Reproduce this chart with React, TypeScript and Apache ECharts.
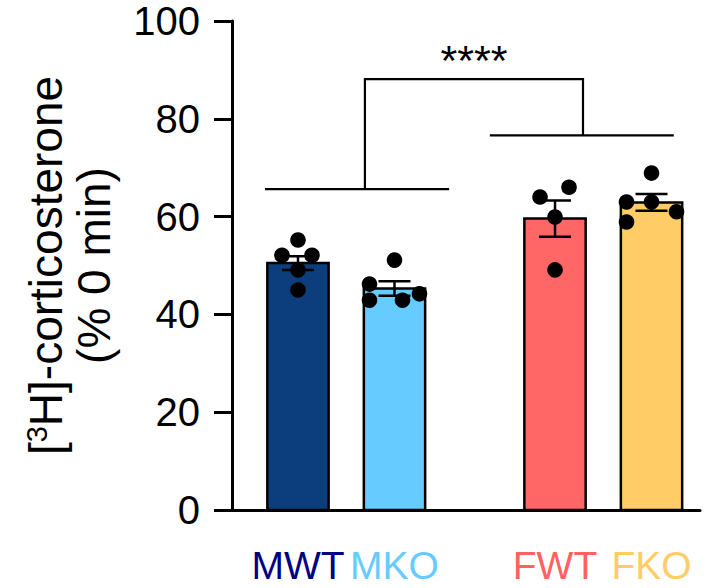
import React, { useEffect, useRef } from "react";
import * as echarts from "echarts";

// ---- data ----
const categories = ["MWT", "MKO", "FWT", "FKO"];
const means = [50.5, 45.3, 59.6, 62.9];
const sems = [1.4, 1.5, 3.7, 1.7];
const pointsMWT = [55.2, 52.1, 52.1, 49.1, 45.0];
const pointsMKO = [51.1, 46.2, 42.9, 42.9, 44.2];
const pointsFWT = [64.0, 66.0, 59.9, 49.1];
const pointsFKO = [68.9, 63.0, 63.0, 61.0, 58.9];
const yTicks = [0, 20, 40, 60, 80, 100];
const significance = "****";

// ---- layout (positions on the hidden x scale, sizes, styles) ----
const barCenters = [14.1, 34.72, 69.02, 89.64];
const barWidthUnits = 13.1;
const jitterPx = [
  [0, -16, 14, 0, 0],
  [0, -25, -25, 8, 25],
  [-15, 14, 0, 0],
  [0, -25, 0, 25, -25],
];
const barColors = ["#0C3D7C", "#66CCFF", "#FF6666", "#FFCC66"];
const labelColors = ["#000080", "#66CCFF", "#FF6262", "#FFCC66"];
const bracketLeft = { x0: 7.05, x1: 46.4, y: 65.6, stem: 28.4 };
const bracketRight = { x0: 55.1, x1: 94.4, y: 76.6, stem: 75.0 };
const bracketTop = 88.1;
const FONT = "'Liberation Sans', Arial, Helvetica, sans-serif";

const allPoints = [pointsMWT, pointsMKO, pointsFWT, pointsFKO];

export default function App() {
  const ref = useRef<HTMLDivElement>(null);
  useEffect(() => {
    if (!ref.current) return;
    const chart = echarts.init(ref.current, undefined, { renderer: "svg" });

    const barData = categories.map((_, i) => [barCenters[i], means[i], sems[i], i]);
    const dotData: number[][] = [];
    allPoints.forEach((pts, i) =>
      pts.forEach((v, j) => dotData.push([barCenters[i], v, jitterPx[i][j] || 0]))
    );

    const rich: any = {};
    categories.forEach((_, i) => {
      rich["c" + i] = { color: labelColors[i], fontSize: 39, fontFamily: FONT };
    });

    const option: any = {
      animation: false,
      grid: { left: 232, right: 20, top: 21, bottom: 78, containLabel: false },
      xAxis: {
        type: "value",
        min: 0,
        max: 100,
        splitLine: { show: false },
        axisTick: { show: false },
        axisLine: { show: true, lineStyle: { color: "#000", width: 3 } },
        axisLabel: {
          customValues: barCenters,
          margin: 36,
          formatter: (value: number) => {
            let idx = 0;
            let best = Infinity;
            barCenters.forEach((c, i) => {
              const d = Math.abs(c - value);
              if (d < best) { best = d; idx = i; }
            });
            return "{c" + idx + "|" + categories[idx] + "}";
          },
          rich,
        },
      },
      yAxis: {
        type: "value",
        min: yTicks[0],
        max: yTicks[yTicks.length - 1],
        interval: 20,
        splitLine: { show: false },
        axisLine: { show: true, lineStyle: { color: "#000", width: 3 } },
        axisTick: { show: true, length: 18, lineStyle: { color: "#000", width: 3 } },
        axisLabel: { fontSize: 40, color: "#000", margin: 32, fontFamily: FONT },
        name: "[{sup|3}H]-corticosterone\n(% 0 min)",
        nameLocation: "middle",
        nameRotate: 90,
        nameGap: 114,
        nameTextStyle: {
          fontSize: 46,
          color: "#000",
          fontFamily: FONT,
          lineHeight: 48,
          rich: {
            sup: { fontSize: 29, fontFamily: FONT, color: "#000", verticalAlign: "top", lineHeight: 48 },
          },
        },
      },
      series: [
        {
          type: "custom",
          name: "bars",
          data: barData,
          encode: { x: 0, y: 1 },
          renderItem: (params: any, api: any) => {
            const x = api.value(0);
            const m = api.value(1);
            const s = api.value(2);
            const i = api.value(3);
            const top = api.coord([x, m]);
            const base = api.coord([x, 0]);
            const w = api.size([barWidthUnits, 0])[0];
            const hi = api.coord([x, m + s]);
            const lo = api.coord([x, m - s]);
            const cap = 16;
            const es = { stroke: "#000", lineWidth: 2.5 };
            return {
              type: "group",
              children: [
                {
                  type: "rect",
                  shape: { x: top[0] - w / 2, y: top[1], width: w, height: base[1] - top[1] },
                  style: { fill: barColors[i], stroke: "#000", lineWidth: 2.5 },
                },
                { type: "line", shape: { x1: hi[0], y1: hi[1], x2: lo[0], y2: lo[1] }, style: es },
                { type: "line", shape: { x1: hi[0] - cap, y1: hi[1], x2: hi[0] + cap, y2: hi[1] }, style: es },
                { type: "line", shape: { x1: lo[0] - cap, y1: lo[1], x2: lo[0] + cap, y2: lo[1] }, style: es },
              ],
            };
          },
          z: 2,
        },
        {
          type: "custom",
          name: "points",
          data: dotData,
          encode: { x: 0, y: 1 },
          renderItem: (params: any, api: any) => {
            const p = api.coord([api.value(0), api.value(1)]);
            return {
              type: "circle",
              shape: { cx: p[0] + api.value(2), cy: p[1], r: 7.8 },
              style: { fill: "#000" },
            };
          },
          z: 3,
        },
        {
          type: "custom",
          name: "significance",
          data: [[bracketLeft.stem, bracketTop]],
          encode: { x: 0, y: 1 },
          renderItem: (params: any, api: any) => {
            const ls = { stroke: "#000", lineWidth: 2.2, fill: null };
            const l0 = api.coord([bracketLeft.x0, bracketLeft.y]);
            const l1 = api.coord([bracketLeft.x1, bracketLeft.y]);
            const r0 = api.coord([bracketRight.x0, bracketRight.y]);
            const r1 = api.coord([bracketRight.x1, bracketRight.y]);
            const sL = api.coord([bracketLeft.stem, bracketLeft.y]);
            const sLt = api.coord([bracketLeft.stem, bracketTop]);
            const sR = api.coord([bracketRight.stem, bracketRight.y]);
            const sRt = api.coord([bracketRight.stem, bracketTop]);
            const mid = (sLt[0] + sRt[0]) / 2;
            return {
              type: "group",
              children: [
                { type: "line", shape: { x1: l0[0], y1: l0[1], x2: l1[0], y2: l1[1] }, style: ls },
                { type: "line", shape: { x1: r0[0], y1: r0[1], x2: r1[0], y2: r1[1] }, style: ls },
                {
                  type: "polyline",
                  shape: { points: [sL, sLt, sRt, sR] },
                  style: ls,
                },
                {
                  type: "text",
                  style: {
                    text: significance,
                    x: mid,
                    y: sLt[1] - 19,
                    align: "center",
                    verticalAlign: "middle",
                    fontSize: 43,
                    fontFamily: FONT,
                    fill: "#000",
                  },
                },
              ],
            };
          },
          z: 4,
        },
      ],
    };
    chart.setOption(option);
    return () => chart.dispose();
  }, []);
  return (
    <div
      ref={ref}
      style={{ position: "fixed", left: 0, top: 0, width: 720, height: 588, background: "#fff" }}
    />
  );
}
